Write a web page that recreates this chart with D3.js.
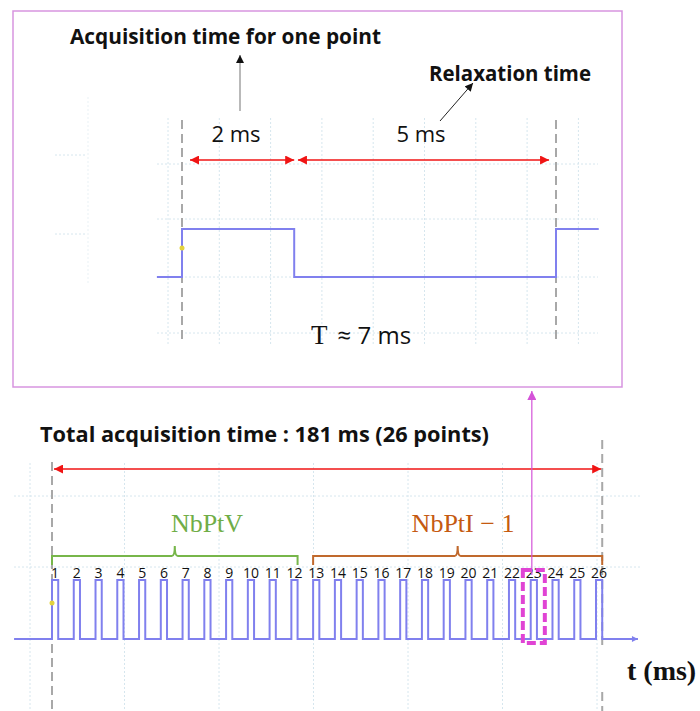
<!DOCTYPE html>
<meta charset="utf-8">
<style>
  body { margin: 0; background: #fff; }
  text { font-family: "Open Sans", "DejaVu Sans", sans-serif; fill: #111; }
  .bold { font-weight: bold; }
  .serif { font-family: "Liberation Serif", "DejaVu Serif", serif; }
  .grid { stroke: #d6e6ee; stroke-width: 1; stroke-dasharray: 2,2; fill: none; }
  .cursor { stroke: #a8a8a8; stroke-width: 2; stroke-dasharray: 9,5; }
  .signal { fill: none; stroke: #8080ee; stroke-width: 2; }
  .red { stroke: #f01414; stroke-width: 1.6; fill: none; }
</style>
<svg width="700" height="711"></svg>
<script src="https://d3js.org/d3.v7.min.js"></script>
<script>

    // ---- data ----
    // zoom on one point (ms, level)
    var zoomSignal = [[-0.47, 0], [0, 0], [0, 1], [2.1, 1], [2.1, 0], [7, 0], [7, 1], [7.8, 1]];
    var zoomSpans = [
        {label: "2 ms", from: 0.15, to: 2.1},
        {label: "5 ms", from: 2.17, to: 6.87}
    ];
    // full acquisition
    var pointLabels = [1, 2, 3, 4, 5, 6, 7, 8, 9, 10, 11, 12, 13, 14, 15, 16, 17, 18, 19, 20, 21, 22, 23, 24, 25, 26];
    var pulseStarts = [0, 7, 14, 21, 28, 35, 42, 49, 56, 63, 70, 77, 84, 91, 98, 105, 112, 119, 126, 133, 140, 147, 154, 161, 168, 175];
    var pulseWidth = 2;      // ms high
    var totalEnd = 177;      // ms, end of last pulse
    var groups = [
        {name: "NbPtV", first: 1, last: 12, color: "#77b64a", textColor: "#70ad47"},
        {name: "NbPtI \u2212 1", first: 13, last: 26, color: "#c0692d", textColor: "#c55a11"}
    ];
    var zoomedPoint = 23;

    var svg = d3.select("svg");

    var defs = svg.append("defs");
    function marker(id, color, w, h) {
        defs.append("marker")
            .attr("id", id)
            .attr("viewBox", "0 0 10 10")
            .attr("refX", 10).attr("refY", 5)
            .attr("markerUnits", "userSpaceOnUse")
            .attr("markerWidth", w).attr("markerHeight", h)
            .attr("orient", "auto-start-reverse")
            .append("path")
            .attr("d", "M0,0 L10,5 L0,10 Z")
            .attr("fill", color);
    }
    marker("redHead", "#f01414", 10, 9);
    marker("blackHead", "#111", 9, 8);
    marker("pinkHead", "#d453d8", 9, 9);

    // ================= top panel (zoom) =================
    var xTop = d3.scaleLinear().domain([0, 7]).range([182, 556]);
    var yTop = d3.scaleLinear().domain([0, 1]).range([277, 229]);

    var upper = svg.append("g");

    // faint grid
    var vTop = d3.range(168, 600, 51.3);
    upper.selectAll(".vt").data(vTop).enter().append("line")
        .attr("class", "grid")
        .attr("x1", function (d) { return d; }).attr("x2", function (d) { return d; })
        .attr("y1", 118).attr("y2", 345);
    upper.selectAll(".ht").data([164, 219, 277, 333]).enter().append("line")
        .attr("class", "grid")
        .attr("x1", 157).attr("x2", 598)
        .attr("y1", function (d) { return d; }).attr("y2", function (d) { return d; });
    upper.append("line").attr("class", "grid").attr("x1", 55).attr("x2", 87).attr("y1", 155).attr("y2", 155);
    upper.append("line").attr("class", "grid").attr("x1", 55).attr("x2", 87).attr("y1", 234).attr("y2", 234);
    upper.append("line").attr("class", "grid").attr("opacity", 0.5).attr("x1", 88).attr("x2", 88).attr("y1", 97).attr("y2", 285);

    // cursors
    [0, 7].forEach(function (t) {
        upper.append("line").attr("class", "cursor")
            .attr("x1", xTop(t)).attr("x2", xTop(t))
            .attr("y1", 120).attr("y2", 342);
    });

    upper.append("path")
        .datum(zoomSignal)
        .attr("class", "signal")
        .attr("d", d3.line().x(function (d) { return xTop(d[0]); }).y(function (d) { return yTop(d[1]); }));
    upper.append("circle").attr("cx", xTop(0)).attr("cy", 248).attr("r", 2.5).attr("fill", "#e3d23c");

    // span arrows
    upper.selectAll(".span").data(zoomSpans).enter().append("line")
        .attr("class", "red")
        .attr("x1", function (d) { return xTop(d.from); })
        .attr("x2", function (d) { return xTop(d.to); })
        .attr("y1", 160).attr("y2", 160)
        .attr("marker-start", "url(#redHead)")
        .attr("marker-end", "url(#redHead)");
    upper.selectAll(".spanLabel").data(zoomSpans).enter().append("text")
        .attr("x", function (d, i) { return i === 0 ? 236 : 421; })
        .attr("y", 142)
        .attr("text-anchor", "middle")
        .style("font-size", "22px")
        .text(function (d) { return d.label; });

    // titles with arrows
    upper.append("text").attr("class", "bold")
        .attr("x", 70).attr("y", 44)
        .attr("textLength", 311).attr("lengthAdjust", "spacingAndGlyphs")
        .style("font-size", "22px")
        .text("Acquisition time for one point");
    upper.append("line")
        .attr("x1", 240).attr("y1", 111).attr("x2", 240).attr("y2", 55)
        .attr("stroke", "#8a8a8a").attr("stroke-width", 1.2)
        .attr("marker-end", "url(#blackHead)");

    upper.append("text").attr("class", "bold")
        .attr("x", 429).attr("y", 81)
        .attr("textLength", 162).attr("lengthAdjust", "spacingAndGlyphs")
        .style("font-size", "22px")
        .text("Relaxation time");
    upper.append("line")
        .attr("x1", 440).attr("y1", 121).attr("x2", 473).attr("y2", 83)
        .attr("stroke", "#222").attr("stroke-width", 1)
        .attr("marker-end", "url(#blackHead)");

    var period = upper.append("text").attr("x", 311).attr("y", 344).style("font-size", "24px");
    period.append("tspan").attr("class", "serif").style("font-size", "27px").text("T");
    period.append("tspan").attr("dx", 10).text("\u2248 7 ms");

    // frame
    upper.append("rect")
        .attr("x", 13).attr("y", 11).attr("width", 609).attr("height", 376)
        .attr("fill", "none").attr("stroke", "#d795e0").attr("stroke-width", 1.5);

    // ================= bottom panel (full acquisition) =================
    var x = d3.scaleLinear().domain([0, 175]).range([52, 596]);
    var y = d3.scaleLinear().domain([0, 1]).range([639, 580]);

    var bot = svg.append("g");

    var vBot = d3.range(30, 640, 94.5);
    bot.selectAll(".vb").data(vBot).enter().append("line")
        .attr("class", "grid")
        .attr("x1", function (d) { return d; }).attr("x2", function (d) { return d; })
        .attr("y1", 463).attr("y2", 711);
    bot.selectAll(".hb").data([496, 567]).enter().append("line")
        .attr("class", "grid")
        .attr("x1", 14).attr("x2", 640)
        .attr("y1", function (d) { return d; }).attr("y2", function (d) { return d; });

    bot.append("text").attr("class", "bold")
        .attr("x", 40).attr("y", 442)
        .attr("textLength", 449).attr("lengthAdjust", "spacingAndGlyphs")
        .style("font-size", "22px")
        .text("Total acquisition time : 181 ms (26 points)");

    // cursors at start and end
    bot.append("line").attr("class", "cursor")
        .attr("x1", x(0)).attr("x2", x(0)).attr("y1", 462).attr("y2", 711);
    bot.append("line").attr("class", "cursor")
        .attr("x1", x(totalEnd)).attr("x2", x(totalEnd)).attr("y1", 440).attr("y2", 650);
    bot.append("line").attr("class", "cursor")
        .attr("x1", x(totalEnd)).attr("x2", x(totalEnd)).attr("y1", 692).attr("y2", 711);

    bot.append("line").attr("class", "red")
        .attr("x1", x(0) + 2).attr("x2", x(totalEnd) - 1)
        .attr("y1", 469).attr("y2", 469)
        .attr("marker-start", "url(#redHead)")
        .attr("marker-end", "url(#redHead)");

    // signal
    var pts = [[-12.2, 0]];
    pulseStarts.forEach(function (s) {
        pts.push([s, 0], [s, 1], [s + pulseWidth, 1], [s + pulseWidth, 0]);
    });
    pts.push([188.5, 0]);
    bot.append("path")
        .datum(pts)
        .attr("class", "signal")
        .attr("d", d3.line().x(function (d) { return x(d[0]); }).y(function (d) { return y(d[1]); }));
    bot.append("path")
        .attr("d", "M" + (x(188.5) - 6) + "," + (y(0) - 3) + "L" + x(188.5) + "," + y(0) + "L" + (x(188.5) - 6) + "," + (y(0) + 3) + "Z")
        .attr("fill", "#8080ee");
    bot.append("circle").attr("cx", x(0)).attr("cy", 603).attr("r", 2.5).attr("fill", "#e3d23c");

    // point numbers
    bot.selectAll(".num").data(pointLabels).enter().append("text")
        .attr("x", function (d, i) { return x(pulseStarts[i] + pulseWidth / 2); })
        .attr("y", 578)
        .attr("text-anchor", "middle")
        .style("font-size", "14px")
        .text(function (d) { return d; });

    // braces
    groups.forEach(function (g) {
        var x0 = x(pulseStarts[g.first - 1]),
            x1 = g.last === 26 ? x(totalEnd) : x(pulseStarts[g.last - 1] + pulseWidth),
            xm = (x0 + x1) / 2,
            yb = 556, ye = 565, yt = 546;
        var d = "M" + x0 + "," + ye + "L" + x0 + "," + yb +
            "L" + (xm - 3) + "," + yb + "Q" + xm + "," + yb + " " + xm + "," + yt +
            "Q" + xm + "," + yb + " " + (xm + 3) + "," + yb +
            "L" + x1 + "," + yb + "L" + x1 + "," + ye;
        bot.append("path").attr("d", d)
            .attr("fill", "none").attr("stroke", g.color).attr("stroke-width", 2);
        bot.append("text").attr("class", "serif")
            .attr("x", g.first === 1 ? 207 : 463).attr("y", 532)
            .attr("text-anchor", "middle")
            .style("font-size", "26px")
            .style("fill", g.textColor)
            .text(g.name);
    });

    // zoomed point highlight
    var zc = x(pulseStarts[zoomedPoint - 1] + pulseWidth / 2);
    bot.append("rect")
        .attr("x", zc - 11).attr("y", 570).attr("width", 22).attr("height", 73)
        .attr("fill", "none").attr("stroke", "#e044d4").attr("stroke-width", 4)
        .attr("stroke-dasharray", "9,4");
    bot.append("line")
        .attr("x1", zc - 2).attr("x2", zc - 2).attr("y1", 575).attr("y2", 391)
        .attr("stroke", "#d453d8").attr("stroke-width", 1.2)
        .attr("marker-end", "url(#pinkHead)");

    var tl = bot.append("text").attr("class", "serif bold")
        .attr("x", 627).attr("y", 680).style("font-size", "28px");
    tl.text("t (ms)");

</script>
